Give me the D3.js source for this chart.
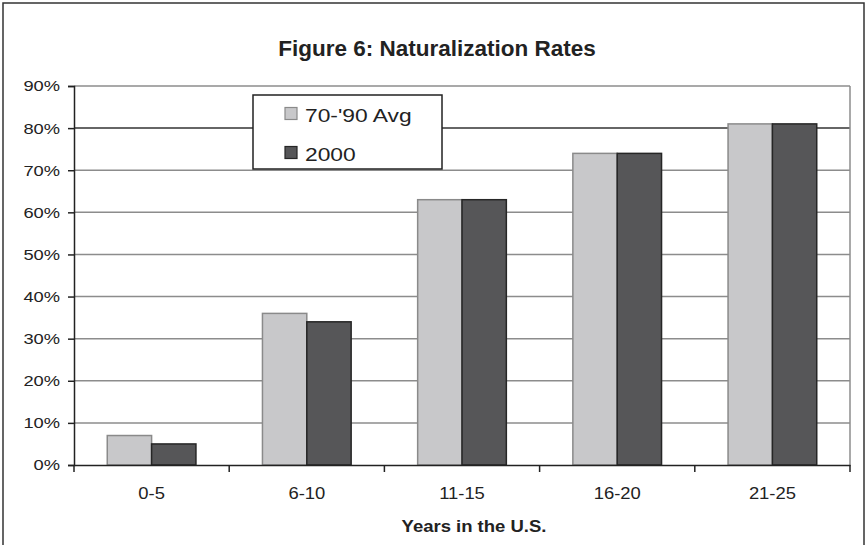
<!DOCTYPE html>
<html><head><meta charset="utf-8">
<script src="https://cdn.jsdelivr.net/npm/d3@7"></script>
<style>body{margin:0;background:#fff}svg{display:block}text{font-family:"Liberation Sans",Arial,sans-serif;fill:#222}</style>
</head><body><svg id="c" width="867" height="545"></svg>
<script>
const categories = ["0-5","6-10","11-15","16-20","21-25"];
const seriesNames = ["70-'90 Avg","2000"];
const avg7090 = [0.07,0.36,0.63,0.74,0.81];
const y2000 = [0.05,0.34,0.63,0.74,0.81];
const yTicks = [0,0.1,0.2,0.3,0.4,0.5,0.6,0.7,0.8,0.9];
const fills = ["#c8c8ca","#565658"];
const strokes = ["#8a8a8a","#262626"];

function stretch(sel,k){
  sel.each(function(){
    const w = this.getComputedTextLength();
    d3.select(this).attr("textLength",w*k).attr("lengthAdjust","spacingAndGlyphs");
  });
}

const svg = d3.select("#c");
const m = {l:74,r:850,t:86,b:465};
svg.append("rect").attr("x",3).attr("y",3).attr("width",861).attr("height",560)
  .attr("fill","none").attr("stroke","#333").attr("stroke-width",1.5);

const x = d3.scaleBand().domain(categories).range([m.l,m.r]);
const x1 = d3.scaleBand().domain([0,1]).range([0,x.bandwidth()*2/3.5]);
const y = d3.scaleLinear().domain([0,0.9]).range([m.b,m.t]);

// gridlines
svg.append("g").selectAll("line").data(yTicks.filter(d=>d>0)).join("line")
  .attr("x1",m.l).attr("x2",m.r).attr("y1",d=>y(d)).attr("y2",d=>y(d))
  .attr("stroke",d=>Math.abs(d-0.8)<1e-9?"#333":"#8c8c8c").attr("stroke-width",1.5);
svg.append("line").attr("x1",m.r).attr("x2",m.r).attr("y1",m.t).attr("y2",m.b)
  .attr("stroke","#8c8c8c").attr("stroke-width",1.5);

// bars
const data = [avg7090,y2000];
const off = (x.bandwidth()-x1.range()[1])/2;
data.forEach((vals,si)=>{
  svg.append("g").selectAll("rect").data(vals).join("rect")
    .attr("x",(d,i)=>x(categories[i])+off+x1(si))
    .attr("y",d=>y(d)).attr("width",x1.bandwidth()).attr("height",d=>m.b-y(d))
    .attr("fill",fills[si]).attr("stroke",strokes[si]).attr("stroke-width",1.5);
});

// axes
const ya = svg.append("g").attr("transform",`translate(${m.l},0)`)
  .call(d3.axisLeft(y).tickValues(yTicks).tickFormat(d3.format(".0%")).tickSize(6).tickPadding(8));
ya.select(".domain").attr("stroke","#222").attr("stroke-width",1.5);
ya.selectAll(".tick line").attr("stroke","#222").attr("stroke-width",1.5);
ya.selectAll("text").style("font-size","15.5px").attr("fill","#222").call(stretch,1.18);

const xa = svg.append("g").attr("transform",`translate(0,${m.b})`)
  .call(d3.axisBottom(x).tickSize(0).tickPadding(23));
xa.select(".domain").attr("stroke","#222").attr("stroke-width",1.5);
xa.selectAll("text").style("font-size","16px").attr("fill","#222").call(stretch,1.15);
const bounds = categories.map(c=>x(c)).concat([m.r]);
svg.append("g").selectAll("line").data(bounds).join("line")
  .attr("x1",d=>d).attr("x2",d=>d).attr("y1",m.b).attr("y2",m.b+7)
  .attr("stroke","#222").attr("stroke-width",1.5);

// title and axis title
svg.append("text").attr("x",437).attr("y",56).attr("text-anchor","middle")
  .style("font-size","22.5px").style("font-weight","bold").text("Figure 6: Naturalization Rates");
svg.append("text").attr("x",474).attr("y",532).attr("text-anchor","middle")
  .style("font-size","16.5px").style("font-weight","bold").text("Years in the U.S.").call(stretch,1.12);

// legend
const lg = svg.append("g");
lg.append("rect").attr("x",253).attr("y",95).attr("width",189).attr("height",74)
  .attr("fill","#fff").attr("stroke","#222").attr("stroke-width",1.5);
seriesNames.forEach((n,i)=>{
  const cy = 113.5+i*39;
  lg.append("rect").attr("x",285).attr("y",cy-6).attr("width",12).attr("height",12)
    .attr("fill",fills[i]).attr("stroke",strokes[i]).attr("stroke-width",1.2);
  lg.append("text").attr("x",305).attr("y",cy+8.5).style("font-size","19px").text(n).call(stretch,1.2);
});
</script></body></html>
